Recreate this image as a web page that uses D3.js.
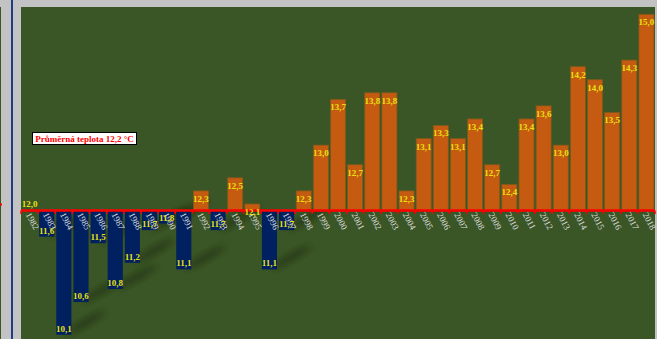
<!DOCTYPE html>
<html>
<head>
<meta charset="utf-8">
<script src="https://cdn.jsdelivr.net/npm/d3@7"></script>
<style>
  body { margin: 0; background: #c3c3c3; }
  svg { display: block; }
</style>
</head>
<body>
<svg id="chart"></svg>
<script>
// roky a průměrné teploty
var years = ['1982','1983','1984','1985','1986','1987','1988','1989','1990','1991',
             '1992','1993','1994','1995','1996','1997','1998','1999','2000','2001',
             '2002','2003','2004','2005','2006','2007','2008','2009','2010','2011',
             '2012','2013','2014','2015','2016','2017','2018'];
var temps = [12.0, 11.6, 10.1, 10.6, 11.5, 10.8, 11.2, 11.7, 11.8, 11.1,
             12.3, 11.7, 12.5, 12.1, 11.1, 11.7, 12.3, 13.0, 13.7, 12.7,
             13.8, 13.8, 12.3, 13.1, 13.3, 13.1, 13.4, 12.7, 12.4, 13.4,
             13.6, 13.0, 14.2, 14.0, 13.5, 14.3, 15.0];
var baseValue = 12.0;
var legendText = 'Průměrná teplota 12,2 °C';

var data = years.map((y, i) => ({ year: y, value: temps[i] }));

const width = 657, height = 339;
const plot = { left: 21, right: 655, top: 7, bottom: 339 };

const svg = d3.select('#chart')
    .attr('width', width)
    .attr('height', height);

// background pieces
svg.append('rect').attr('x', 0).attr('y', 0).attr('width', width).attr('height', height)
    .attr('fill', '#c3c3c3');
svg.append('rect')
    .attr('x', plot.left).attr('y', plot.top)
    .attr('width', plot.right - plot.left).attr('height', plot.bottom - plot.top)
    .attr('fill', '#3a5526');
svg.append('rect').attr('x', 0).attr('y', 7).attr('width', 1).attr('height', height)
    .attr('fill', '#3a5526');
svg.append('line')
    .attr('x1', 12).attr('x2', 12).attr('y1', 0).attr('y2', height)
    .attr('stroke', '#1f3c88').attr('stroke-width', 2);
svg.append('line')
    .attr('x1', 0).attr('x2', 2).attr('y1', 204.5).attr('y2', 204.5)
    .attr('stroke', '#ff0000').attr('stroke-width', 2);

const x = d3.scaleBand()
    .domain(years)
    .range([plot.left, plot.right])
    .paddingInner(0.12)
    .paddingOuter(0.06);

const y = d3.scaleLinear()
    .domain([10, 15.2])
    .range([341.3, 1.2]);

// shadow filter
const defs = svg.append('defs');
defs.append('filter').attr('id', 'blur')
    .attr('x', '-50%').attr('y', '-50%').attr('width', '200%').attr('height', '200%')
    .append('feGaussianBlur').attr('stdDeviation', 3);

const g = svg.append('g');

// shadows of the blue bars
g.selectAll('.shadow')
    .data(data.filter(d => d.value < baseValue))
    .join('ellipse')
    .attr('class', 'shadow')
    .attr('transform', d => `translate(${x(d.year) + x.bandwidth() + 14},${y(d.value) - 12}) rotate(-30)`)
    .attr('rx', 22)
    .attr('ry', 4)
    .attr('fill', '#1a2a10')
    .attr('opacity', 0.55)
    .attr('filter', 'url(#blur)');

// bars
g.selectAll('.bar')
    .data(data)
    .join('rect')
    .attr('class', 'bar')
    .attr('x', d => x(d.year))
    .attr('y', d => Math.min(y(d.value), y(baseValue)))
    .attr('width', x.bandwidth())
    .attr('height', d => Math.abs(y(d.value) - y(baseValue)))
    .attr('fill', d => d.value >= baseValue ? '#c55a11' : '#002060')
    .attr('stroke', d => d.value >= baseValue ? '#7a5a1a' : 'none')
    .attr('stroke-width', 0.8);

// baseline
g.append('line')
    .attr('x1', plot.left).attr('x2', plot.right)
    .attr('y1', y(baseValue)).attr('y2', y(baseValue))
    .attr('stroke', '#ff0000').attr('stroke-width', 2.5);

const step = x.step();
g.selectAll('.tick')
    .data(d3.range(years.length + 1))
    .join('line')
    .attr('class', 'tick')
    .attr('x1', i => plot.left + i * step).attr('x2', i => plot.left + i * step)
    .attr('y1', y(baseValue)).attr('y2', y(baseValue) + 3.5)
    .attr('stroke', '#ff0000').attr('stroke-width', 1.5);

// year labels
g.selectAll('.year')
    .data(data)
    .join('text')
    .attr('class', 'year')
    .attr('transform', d => `translate(${x(d.year) + x.bandwidth() / 2 - 4},${y(baseValue) + 4}) rotate(62)`)
    .attr('font-family', 'Liberation Serif, serif')
    .attr('font-size', 9)
    .attr('fill', '#dcdcdc')
    .text(d => d.year);

// value labels
g.selectAll('.val')
    .data(data)
    .join('text')
    .attr('class', 'val')
    .attr('x', d => x(d.year) + x.bandwidth() / 2)
    .attr('y', d => d.value > baseValue ? y(d.value) + 11 : Math.max(y(d.value), y(baseValue)) - 3)
    .attr('text-anchor', 'middle')
    .attr('font-family', 'Liberation Serif, serif')
    .attr('font-weight', 'bold')
    .attr('font-size', 9)
    .attr('fill', '#e8e010')
    .text(d => d3.format('.1f')(d.value).replace('.', ','));

// legend box
const legend = svg.append('g');
legend.append('rect')
    .attr('x', 32.5).attr('y', 132.5).attr('width', 104).attr('height', 12)
    .attr('fill', '#ffffff').attr('stroke', '#000000').attr('stroke-width', 1);
legend.append('text')
    .attr('x', 84.5).attr('y', 141.8)
    .attr('text-anchor', 'middle')
    .attr('font-family', 'Liberation Serif, serif')
    .attr('font-weight', 'bold')
    .attr('font-size', 9)
    .attr('fill', '#ff0000')
    .text(legendText);
</script>
</body>
</html>
